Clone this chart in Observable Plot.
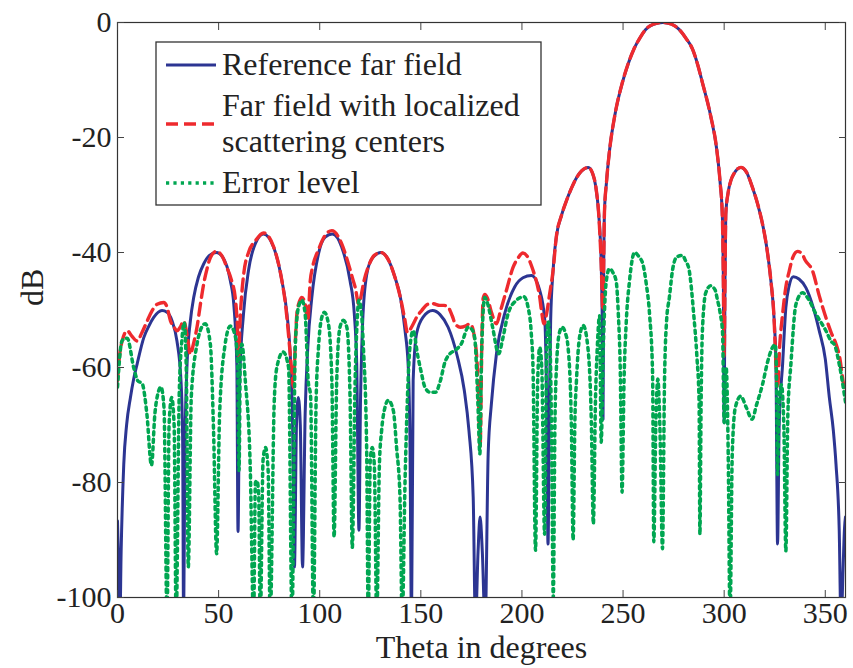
<!DOCTYPE html>
<html>
<head>
<meta charset="utf-8">
<script src="https://cdn.jsdelivr.net/npm/d3@7"></script>
<script src="https://cdn.jsdelivr.net/npm/@observablehq/plot@0.6"></script>
<style>
  html, body { margin: 0; padding: 0; background: #fff; }
  #wrap { position: relative; width: 853px; height: 668px; overflow: hidden; }
  #legend { position: absolute; left: 155px; top: 41px; }
</style>
</head>
<body>
<div id="wrap"></div>
<script>
// Angles (degrees) and levels (dB) of the reference far field
const refTheta = [0,0.6,1.15,1.8,3.1,4.5,6.4,8,9.7,13,15.5,17.9,22,24.5,27,29.4,31.4,32.2,32.7,33.3,34.4,36,37.7,40,42.6,45.5,48.9,52,55.8,57.5,59,59.6,60.4,62.3,64.8,68.1,72.2,77.2,81.3,83.8,85.4,86.5,87.5,88.5,89.4,90.4,91.5,92.8,94.1,96.1,99.4,102.7,106.2,110.9,115,117.1,118.3,119.4,120.2,120.8,121.6,124,127,130.3,133.5,137.2,140,142.2,143.8,144.6,145.4,146.2,147.9,151.2,155.8,159.5,163.5,168,171.5,173.8,175.9,177,178.3,179.3,180.4,181.8,183.3,184.9,187.4,191.5,196.4,200.5,204.7,208.8,211.3,212.1,212.9,213.6,214.2,215.4,217,219.6,222,224.5,227,229.5,232.8,235,236.5,238,239.2,239.8,240.1,240.4,240.8,241.8,243.4,245.9,249.7,252.5,255.4,258.3,261.2,265,269.7,274,277.7,281,284.3,286.8,289.2,293.3,296.3,298,299.1,299.6,300,300.4,300.8,302,303.3,305,308.3,311,314,316.5,319,321,323.1,324.6,325.6,326.4,327.2,328.9,330.5,332,334.2,337,340.4,344,347,350,352,354,355.3,356.9,357.8,358.8,359.5,360];
const refDb = [-86.7,-95,-105,-92,-76.8,-70,-65.2,-62,-59.4,-54.8,-52.8,-51.3,-50.1,-50.4,-51.9,-55.4,-62.3,-72,-105,-75,-59.4,-52,-47.8,-44.3,-42,-40.5,-40,-40.8,-44.9,-49,-59.4,-88.5,-62.3,-50.7,-43.1,-38.5,-36.8,-39.1,-44.9,-50.7,-57.6,-68,-94.7,-70,-65.2,-70,-94.7,-68,-56.5,-47.8,-40.2,-37.3,-36.8,-39.1,-44.9,-50.7,-59.4,-88.3,-65,-56.5,-49.5,-42.6,-40.6,-40,-41,-44.3,-48,-53.6,-60,-72,-105,-62.3,-54.1,-51.2,-50.1,-50.8,-53,-58,-64,-71,-82.6,-105,-92,-86,-92,-105,-75,-66.3,-57.6,-50.6,-46,-44.4,-44,-46.6,-51.8,-63.4,-90.7,-65,-51.8,-43.1,-37.3,-33.5,-31,-28.8,-27,-25.8,-25.2,-26.3,-28.5,-33.5,-42,-55,-69,-45,-33,-27.8,-22,-16.2,-10.4,-7.2,-4.6,-2.7,-1.2,-0.3,0,-0.3,-1.2,-2.7,-4.6,-7.2,-10.4,-16.2,-22,-27.8,-33.6,-45,-69.6,-45,-33.3,-29.5,-27.5,-26.2,-25.2,-26,-28.7,-31.5,-35.1,-39,-44.9,-51,-59.4,-90.7,-70,-59.4,-49.6,-46,-44.2,-44.6,-46.1,-49.5,-53.6,-58.5,-65.2,-71,-76.8,-88.4,-105,-95,-88,-86];

// Far field rebuilt from localized scattering centers
const locTheta = [0,1,2.3,4.8,7,9.7,12,14.7,17,19.6,22.9,24.5,26.2,28,29.4,31,32.7,34.5,36,37.5,39.3,41,42.6,44.3,45.9,48.9,51.5,54.1,56.5,58.2,59.3,59.9,60.6,61.5,62.5,65,68.1,72.2,77.2,81.3,82.9,84.5,85.4,87,88,88.7,90,91.2,93.1,94.1,95.3,96.5,99.4,102.7,106,110.9,114.2,116.5,117.5,119.4,120.5,121.6,124,127,130.3,133.5,137.2,140,142,143.4,144.5,146.3,148,150.4,153.5,156,159.4,161.5,163.5,165.5,167,169.5,172,174.2,175.5,176.7,177.8,178.5,179.3,180.2,180.8,181.7,183,185,187.4,189.5,192.3,195.6,198,200.5,202.5,205.5,207.5,208.8,209.8,210.9,212,213.7,215.4,217,219.6,222,224.5,227,229.5,232.8,235,236.5,238,239.2,240,240.5,240.8,241.8,243.4,245.9,249.7,252.5,255.4,258.3,261.2,265,269.7,274,277.7,281,284.3,286.8,289.2,293.3,296.3,298,299.1,299.6,300,300.4,300.8,302,303.3,305,308.3,311,314,316.5,319,321,323.1,324.6,325.6,326.4,327.5,328.9,330.5,332.2,334,336.3,338.5,340,343.7,347,350.3,353,355.3,357,359.4,360];
const locDb = [-62.3,-58,-55.4,-53.6,-54.5,-55.4,-54,-51.9,-50.2,-49,-48.7,-49.5,-51.9,-53,-53.6,-53,-51.9,-54.5,-57.7,-56,-53,-49,-45.5,-42.8,-40.9,-39.8,-40.5,-42.6,-45,-47.8,-53,-58.8,-52,-47,-43.5,-39.8,-38,-36.6,-39,-44.9,-48.5,-54,-57.6,-63.4,-55,-50.7,-48.5,-47.8,-49.5,-51.8,-45,-42.5,-39.5,-37,-36.2,-38.5,-42,-44.8,-46,-49,-47.5,-45.4,-42.5,-40.5,-40,-41,-44.3,-48,-51.5,-53.9,-53.5,-52.4,-51.2,-50.1,-49,-48.9,-49.2,-49.2,-49.5,-51,-52.4,-53,-52.8,-52.4,-53,-55.3,-59,-65,-74,-55,-48,-47.3,-48,-50.5,-52.4,-50,-46.6,-42.6,-41,-40.1,-40.6,-43.1,-45.5,-47.8,-50.5,-52.4,-51,-47.2,-43.1,-37.3,-33.5,-31,-28.8,-27,-25.8,-25.2,-26.3,-28.5,-33.5,-42,-50,-40,-33,-27.8,-22,-16.2,-10.4,-7.2,-4.6,-2.7,-1.2,-0.3,0,-0.3,-1.2,-2.7,-4.6,-7.2,-10.4,-16.2,-22,-27.8,-33.6,-45,-58,-45,-33.3,-29.5,-27.5,-26.2,-25.2,-26,-28.7,-31.5,-35.1,-39,-44.9,-51,-59.4,-63.5,-56,-50.7,-46,-43.2,-40.8,-39.8,-40.2,-41.3,-43.2,-47.5,-51.3,-54,-55.9,-58,-63.5,-64];

// Error level between the two far fields
const errTheta = [0,2.3,4.8,8,10,12.2,14.5,16.8,18.5,20,21.5,23,24.5,25.5,26.8,28,29,30.5,31.9,33,34,35,36.5,39.3,41,43.4,45.9,47.5,49,50.5,53,55.8,58.2,59.5,60.1,60.8,61.5,63.2,65.6,67.3,68.2,69,69.8,70.6,72,73.2,74.5,75.5,77.5,78.8,81.9,84.6,86.3,87.9,89.5,91.2,92.8,94.3,95.5,96.9,98.2,99.4,100.7,102.3,104.3,106,107.1,108.4,110,111.7,113.4,115,116.1,117.5,118.5,119.3,120.5,121.6,123.2,124,125,126,127,128.2,129.5,130.6,132.3,133.9,136.4,138,139.7,140.8,142.2,143.4,144.6,146.2,148.5,150,152,154.5,157.3,159.5,162,164.4,167,170,173.5,175.5,176.7,178.2,179.2,180,181.6,183.5,185.5,188.5,190.5,193.1,197.3,201,203,204.6,205.5,206.7,207.8,208.8,209.8,211.2,212.1,212.9,213.8,214.6,215.5,216.3,217,218.5,219.9,221.5,222.8,224.4,225.3,226.2,227,228.5,230.3,232.6,234.3,235.3,236.4,237.2,238.4,239.2,240.2,241.7,243.3,245,246.6,247.7,248.6,249.5,250.5,251.6,253.2,255.7,258,259.8,261.5,263.1,264.6,265.2,266.2,267.2,268.2,269.5,270.5,271.5,272.9,274.5,276.5,279.3,281,282.6,285,286.5,287.6,288,288.6,289.2,290.9,293.3,295.5,296.6,298,299.2,300,301,302,302.9,304,305.5,308.2,311,313.8,316,319,321.5,323.9,325.3,325.9,326.4,327.2,328.3,329.5,330.5,331.5,333,335.5,338.8,341.5,345.4,350.3,353,354.5,356.9,359.4,360];
const errDb = [-63.4,-55.3,-54.9,-60,-62.3,-62.8,-68,-77,-68,-64.5,-63.4,-67,-104,-70,-65.2,-70,-104,-65,-55,-52.2,-60,-94.7,-65,-56,-53.5,-52.4,-55.9,-71,-92.4,-68,-56.5,-52.8,-54.5,-60,-77.9,-57,-55.9,-62.3,-76.8,-104,-80,-79.7,-82,-104,-76,-73.9,-78,-104,-66,-60,-57.3,-60,-104,-56.5,-49.5,-48.3,-50.7,-62.3,-65,-104,-66,-56.5,-51.8,-50.4,-52.4,-62.3,-89.5,-62.3,-53,-51.8,-53,-65.2,-91.3,-62.3,-52,-48.3,-50,-56.5,-73.9,-104,-76,-73.9,-77,-104,-77,-71,-66.9,-65.7,-67.5,-73.9,-82.6,-104,-79.6,-65,-56.5,-53.6,-58,-60.5,-63.4,-64.3,-64.3,-62.5,-59,-57.6,-57,-55.9,-53,-53.5,-55,-66,-75,-58,-47.8,-49.5,-53,-57.6,-55,-50.7,-48.3,-47.7,-49.5,-54,-60.5,-91.8,-62,-56.5,-60,-89,-60,-52,-55,-70,-100,-70,-60.5,-54,-53,-54,-56.5,-69.2,-90,-69,-62,-54.7,-52.7,-56.5,-69.2,-87.2,-65,-57,-51,-73,-57,-45,-42.8,-43.5,-45,-51,-60,-81.7,-62,-52,-44.9,-40,-40.8,-42,-45.5,-50.7,-61,-90.3,-70,-62,-70,-91.5,-62.3,-52,-47.8,-43,-40.8,-40.5,-41.5,-42.9,-51,-58,-66,-89,-66,-53.9,-47,-45.8,-46.5,-48.1,-50.5,-53.9,-69.6,-60,-75,-104,-75,-67,-65,-67,-69,-66.5,-62.9,-59,-56.5,-56,-62,-78.6,-66,-63,-70,-91.9,-68,-59.4,-49,-47,-48,-50.7,-53.6,-55.5,-56,-59.4,-64.6,-66];

const xTicks = [0, 50, 100, 150, 200, 250, 300, 350];
const yTicks = [0, -20, -40, -60, -80, -100];

const seriesNames = ["Reference far field", "Far field with localized scattering centers", "Error level"];
const seriesColors = ["#2c3592", "#ee2a2e", "#00a651"];
const seriesDash = [null, "12,6", "3.2,4.2"];
const seriesWidth = [3, 3.4, 3.5];

const toRows = (thetas, dbs) => thetas.map((t, i) => ({theta: t, db: dbs[i]}));
const refRows = toRows(refTheta, refDb);
const locRows = toRows(locTheta, locDb);
const errRows = toRows(errTheta, errDb);

const serif = "'Liberation Serif', 'Times New Roman', Times, serif";
const fmt = d => String(d);

const chart = Plot.plot({
  width: 853,
  height: 668,
  marginLeft: 117,
  marginRight: 8,
  marginTop: 22,
  marginBottom: 71,
  style: {fontFamily: serif, fontSize: "30px", color: "#222", background: "#fff", overflow: "visible"},
  x: {domain: [0, 360], label: null},
  y: {domain: [-100, 0], label: null},
  marks: [
    Plot.line(refRows, {x: "theta", y: "db", stroke: seriesColors[0], strokeWidth: seriesWidth[0], curve: "monotone-x", clip: true}),
    Plot.line(locRows, {x: "theta", y: "db", stroke: seriesColors[1], strokeWidth: seriesWidth[1], strokeDasharray: seriesDash[1], curve: "monotone-x", clip: true}),
    Plot.line(errRows, {x: "theta", y: "db", stroke: seriesColors[2], strokeWidth: seriesWidth[2], strokeDasharray: seriesDash[2], curve: "monotone-x", clip: true}),
    Plot.frame({stroke: "#333", strokeWidth: 1.2}),
    Plot.axisX({anchor: "bottom", ticks: xTicks, tickSize: -7, tickPadding: 11, tickFormat: fmt, stroke: "#444", fill: "#222", fontSize: 30, label: null}),
    Plot.axisX({anchor: "top", ticks: xTicks, tickSize: -7, tickFormat: () => "", stroke: "#444", label: null}),
    Plot.axisY({anchor: "left", ticks: yTicks, tickSize: -7, tickPadding: 13, tickFormat: fmt, stroke: "#444", fill: "#222", fontSize: 30, label: null}),
    Plot.axisY({anchor: "right", ticks: yTicks, tickSize: -7, tickFormat: () => "", stroke: "#444", label: null}),
    Plot.text(["Theta in degrees"], {frameAnchor: "bottom", dy: 60, fontSize: 32, fill: "#222"}),
    Plot.text(["dB"], {frameAnchor: "left", dx: -85, dy: -4, rotate: -90, fontSize: 32, fill: "#222"})
  ]
});

const wrap = document.getElementById("wrap");
wrap.appendChild(chart);

// Legend box drawn inside the axes, upper left
const legend = d3.create("svg")
  .attr("id", "legend")
  .attr("width", 388)
  .attr("height", 167)
  .style("font-family", serif)
  .style("font-size", "32px");
legend.append("rect").attr("x", 1).attr("y", 1).attr("width", 385).attr("height", 163)
  .attr("fill", "#fff").attr("stroke", "#333").attr("stroke-width", 1.3);
const entryLineY = [24, 83, 142];
const entryLabels = [["Reference far field"], ["Far field with localized", "scattering centers"], ["Error level"]];
const entryTextY = [[34], [75, 111], [152]];
entryLabels.forEach((parts, i) => {
  legend.append("line").attr("x1", 11).attr("x2", 61).attr("y1", entryLineY[i]).attr("y2", entryLineY[i])
    .attr("stroke", seriesColors[i]).attr("stroke-width", seriesWidth[i])
    .attr("stroke-dasharray", seriesDash[i]);
  parts.forEach((t, j) => {
    legend.append("text").attr("x", 67).attr("y", entryTextY[i][j]).attr("fill", "#222").text(t);
  });
});
wrap.appendChild(legend.node());
</script>
</body>
</html>
